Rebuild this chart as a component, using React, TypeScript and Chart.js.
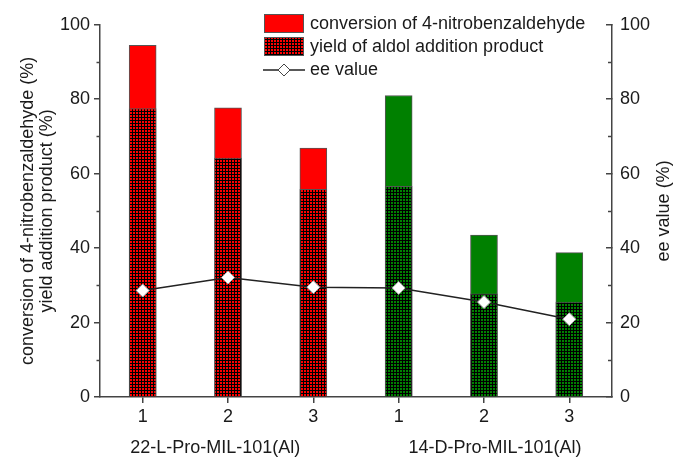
import React, { useEffect, useRef } from "react";
import { Chart, registerables } from "chart.js";

Chart.register(...registerables);

const categories = ["1", "2", "3", "1", "2", "3"];
const conversion = [94.5, 77.7, 66.9, 81.0, 43.5, 38.8];
const yieldValues = [77.5, 64.2, 55.8, 56.6, 27.7, 25.5];
const eeValues = [28.6, 32.1, 29.5, 29.3, 25.5, 20.9];
const groupColors = ["red", "red", "red", "green", "green", "green"];
const groupLabels = ["22-L-Pro-MIL-101(Al)", "14-D-Pro-MIL-101(Al)"];
const groupCenters = [0.85, 4.13];
const leftTitle = ["conversion of 4-nitrobenzaldehyde (%)", "yield addition product (%)"];
const rightTitle = "ee value (%)";
const legendLabels = ["conversion of 4-nitrobenzaldehyde", "yield of aldol addition product", "ee value"];
const minorTicks = [10, 30, 50, 70, 90];

const FONT = "Liberation Sans, Arial, sans-serif";
const TEXT = "#1a1a1a";
const AXIS = "#444";

function makePattern(color: string): CanvasPattern | string {
  const c = document.createElement("canvas");
  c.width = 3;
  c.height = 3;
  const g = c.getContext("2d");
  if (!g) return color;
  g.fillStyle = color;
  g.fillRect(0, 0, 3, 3);
  g.fillStyle = "#000";
  g.fillRect(0, 0, 3, 1);
  g.fillRect(0, 0, 1, 3);
  const p = g.createPattern(c, "repeat");
  return p || color;
}

export default function App() {
  const ref = useRef<HTMLCanvasElement | null>(null);

  useEffect(() => {
    document.body.style.margin = "0";
    const canvas = ref.current;
    if (!canvas) return;
    const solid: Record<string, string> = { red: "#ff0000", green: "#008000" };
    const patt: Record<string, any> = { red: makePattern("#ff0000"), green: makePattern("#008000") };

    const extras = {
      id: "extras",
      afterDraw(chart: any) {
        const ctx = chart.ctx as CanvasRenderingContext2D;
        const ys = chart.scales.y;
        const y1 = chart.scales.y1;
        const xs = chart.scales.x;
        ctx.save();
        // minor ticks
        ctx.strokeStyle = AXIS;
        ctx.lineWidth = 1.5;
        for (const v of minorTicks) {
          const py = Math.round(ys.getPixelForValue(v)) + 0.5;
          ctx.beginPath();
          ctx.moveTo(ys.right - 3.5, py);
          ctx.lineTo(ys.right, py);
          ctx.stroke();
          const py1 = Math.round(y1.getPixelForValue(v)) + 0.5;
          ctx.beginPath();
          ctx.moveTo(y1.left, py1);
          ctx.lineTo(y1.left - 4, py1);
          ctx.stroke();
        }
        ctx.fillStyle = TEXT;
        ctx.font = `18px ${FONT}`;
        ctx.textAlign = "center";
        ctx.textBaseline = "middle";
        // group labels
        groupLabels.forEach((t, i) => {
          ctx.fillText(t, xs.getPixelForValue(groupCenters[i]), 448);
        });
        // left title
        const midY = (chart.chartArea.top + chart.chartArea.bottom) / 2;
        ctx.save();
        ctx.translate(28, midY);
        ctx.rotate(-Math.PI / 2);
        ctx.fillText(leftTitle[0], 0, 0);
        ctx.fillText(leftTitle[1], 0, 19);
        ctx.restore();
        // right title
        ctx.save();
        ctx.translate(664, midY);
        ctx.rotate(-Math.PI / 2);
        ctx.fillText(rightTitle, 0, 0);
        ctx.restore();
        // legend
        ctx.textAlign = "left";
        const lx = 264, lw = 40, lh = 19;
        ctx.fillStyle = solid.red;
        ctx.fillRect(lx, 14, lw, lh);
        ctx.strokeStyle = "#555";
        ctx.lineWidth = 1;
        ctx.strokeRect(lx + 0.5, 14.5, lw - 1, lh - 1);
        ctx.fillStyle = patt.red;
        ctx.fillRect(lx, 37, lw, lh);
        ctx.strokeRect(lx + 0.5, 37.5, lw - 1, lh - 1);
        ctx.strokeStyle = "#222";
        ctx.lineWidth = 1.5;
        ctx.beginPath();
        ctx.moveTo(263, 70);
        ctx.lineTo(305, 70);
        ctx.stroke();
        ctx.fillStyle = "#fff";
        ctx.strokeStyle = "#444";
        ctx.lineWidth = 1;
        ctx.beginPath();
        ctx.moveTo(284, 64);
        ctx.lineTo(290, 70);
        ctx.lineTo(284, 76);
        ctx.lineTo(278, 70);
        ctx.closePath();
        ctx.fill();
        ctx.stroke();
        ctx.fillStyle = TEXT;
        ctx.fillText(legendLabels[0], 310, 24);
        ctx.fillText(legendLabels[1], 310, 47);
        ctx.fillText(legendLabels[2], 310, 70);
        ctx.restore();
      },
    };

    const chart = new Chart(canvas, {
      type: "bar",
      data: {
        labels: categories,
        datasets: [
          {
            type: "line",
            label: legendLabels[2],
            data: eeValues,
            yAxisID: "y1",
            borderColor: "#222",
            borderWidth: 1.5,
            pointStyle: "rectRot",
            pointRadius: 6.5,
            pointBackgroundColor: "#fff",
            pointBorderColor: "#aaa",
            pointBorderWidth: 1,
            order: 1,
          } as any,
          {
            label: legendLabels[1],
            data: yieldValues,
            yAxisID: "y",
            backgroundColor: groupColors.map((c) => patt[c]),
            borderColor: "#555",
            borderWidth: 1,
            barThickness: 27,
            grouped: false,
            order: 2,
          } as any,
          {
            label: legendLabels[0],
            data: conversion,
            yAxisID: "y",
            backgroundColor: groupColors.map((c) => solid[c]),
            borderColor: "#555",
            borderWidth: 1,
            barThickness: 27,
            grouped: false,
            order: 3,
          } as any,
        ],
      },
      options: {
        responsive: false,
        animation: false,
        maintainAspectRatio: false,
        layout: { padding: { top: 20, left: 0, right: 0, bottom: 0 } },
        plugins: { legend: { display: false }, tooltip: { enabled: false } },
        scales: {
          x: {
            type: "category",
            offset: true,
            grid: { offset: false, drawOnChartArea: false, drawTicks: true, tickLength: 6, color: AXIS, lineWidth: 1.5 },
            border: { display: true, color: AXIS, width: 1.5 },
            ticks: { color: TEXT, font: { family: FONT, size: 18 }, padding: 3, autoSkip: false, maxRotation: 0 },
            afterFit: (s: any) => { s.height = 62; },
          },
          y: {
            position: "left",
            min: 0,
            max: 100,
            ticks: { stepSize: 20, color: TEXT, font: { family: FONT, size: 18 }, padding: 4 },
            grid: { drawOnChartArea: false, drawTicks: true, tickLength: 6, color: AXIS, lineWidth: 1.5 },
            border: { display: true, color: AXIS, width: 1.5 },
            afterFit: (s: any) => { s.width = 100; },
          },
          y1: {
            position: "right",
            min: 0,
            max: 100,
            ticks: { stepSize: 20, color: TEXT, font: { family: FONT, size: 18 }, padding: 14 },
            grid: { drawOnChartArea: false, drawTicks: true, tickLength: -6, color: AXIS, lineWidth: 1.5 },
            border: { display: true, color: AXIS, width: 1.5 },
            afterFit: (s: any) => { s.width = 63; },
          },
        },
      } as any,
      plugins: [extras],
    });
    return () => chart.destroy();
  }, []);

  return (
    <div style={{ position: "absolute", left: 0, top: 0, width: 675, height: 459 }}>
      <canvas ref={ref} width={675} height={459} />
    </div>
  );
}
